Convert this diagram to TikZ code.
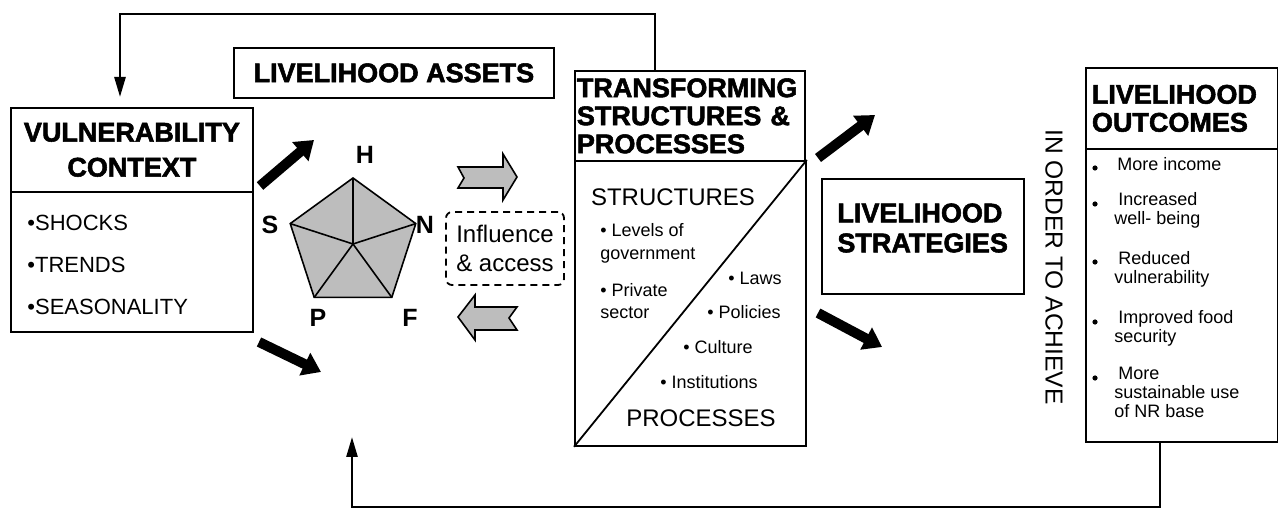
\documentclass[tikz,border=0pt]{standalone}
\usepackage{fontspec}
\setmainfont{Liberation Sans}
\newfontfamily\heavyfont[FakeBold=2]{Liberation Sans}
\usepackage{tikz}
\usetikzlibrary{positioning,calc,arrows.meta,shapes.geometric}
\definecolor{assetgray}{gray}{0.74}

\begin{document}
\begin{tikzpicture}[x=0.5pt,y=-0.5pt,
box/.style={draw,line width=0.9pt,anchor=north west,inner sep=0pt},
heading/.style={font=\heavyfont\bfseries\fontsize{13.5}{#1}\selectfont},
letter/.style={font=\bfseries\fontsize{12.5}{14}\selectfont,inner sep=0pt},
small/.style={font=\fontsize{9}{11.5}\selectfont,inner sep=0pt,align=left},
outc/.style={font=\fontsize{9}{9.5}\selectfont,inner sep=0pt,align=left,anchor=north west},
fat/.style={line width=5pt,-{Triangle[length=9pt,width=12pt]}},
feed/.style={line width=1.3pt,-{Triangle[length=10pt,width=5.5pt]}},
hollow/.style={fill=assetgray,draw,line width=0.8pt}]

\useasboundingbox (0,0) rectangle (1278,512);

% boxes
\node[box,minimum width=121pt,minimum height=42pt,align=center,heading=17.5pt] (vt) at (10,107) {VULNERABILITY\\CONTEXT};
\node[box,minimum width=121pt,minimum height=70pt] (vb) at (10,191) {};
\node[box,minimum width=160pt,minimum height=25pt,heading=15pt] (la) at (233,47) {LIVELIHOOD ASSETS};
\node[box,minimum width=115pt,minimum height=45pt,text width=113pt,inner xsep=1pt,align=left,heading=14pt] (tt) at (574,70) {TRANSFORMING\\STRUCTURES \&\\PROCESSES};
\node[box,minimum width=115.5pt,minimum height=142.5pt] (tb) at (574,160) {};
\node[box,minimum width=101pt,minimum height=57.5pt] (ls) at (821,178) {};
\node[heading=15pt,align=left,anchor=west,inner sep=0pt] (lstxt) at (837,228) {LIVELIHOOD\\STRATEGIES};
\node[box,minimum width=96pt,minimum height=40.5pt,text width=90pt,inner xsep=3pt,align=left,heading=14pt] (ot) at (1085,67) {LIVELIHOOD\\OUTCOMES};
\node[box,minimum width=96pt,minimum height=146.5pt] (ob) at (1085,148) {};

% vulnerability list
\node[anchor=west,inner sep=0pt,font=\fontsize{11}{13}\selectfont] (shocks) at (27,223) {\textbullet SHOCKS};
\node[anchor=west,inner sep=0pt,font=\fontsize{11}{13}\selectfont] (trends) at (27,265) {\textbullet TRENDS};
\node[anchor=west,inner sep=0pt,font=\fontsize{11}{13}\selectfont] (season) at (27,307) {\textbullet SEASONALITY};

% asset pentagon
\node[regular polygon,regular polygon sides=5,minimum size=66pt,inner sep=0pt,outer sep=0pt,hollow] (pent) at (353,244) {};
\foreach \c in {1,...,5}
  \draw[line width=0.8pt] (pent.center) -- (pent.corner \c);
\node[letter] (lblH) at (365,155) {H};
\node[letter] (lblS) at (270,225) {S};
\node[letter] (lblN) at (425,225) {N};
\node[letter] (lblP) at (318,318) {P};
\node[letter] (lblF) at (410,318) {F};

% influence and access
\node[draw,dash pattern=on 3.5pt off 2.5pt,rounded corners=3pt,line width=0.9pt,minimum width=59pt,minimum height=36.5pt,align=center,font=\fontsize{12}{14.5}\selectfont,inner sep=0pt] (infl) at (505,248.5) {Influence\\\& access};
\draw[hollow] (458,167) -- (503,167) -- (503,154) -- (517,177) -- (503,200) -- (503,188) -- (458,188) -- (464,178) -- cycle;
\draw[hollow] (458,317) -- (475,295) -- (475,307) -- (517,307) -- (509,318) -- (517,330) -- (475,330) -- (475,340) -- cycle;

% structures and processes
\draw[line width=0.9pt] (tb.south west) -- (tb.north east);
\node[font=\fontsize{12}{14}\selectfont,inner sep=0pt] (struct) at (673,197) {STRUCTURES};
\node[small,anchor=north west] (s1) at (600,223) {\textbullet\ Levels of\\government};
\node[small,anchor=north west,font=\fontsize{9}{11}\selectfont] (s2) at (600,283) {\textbullet\ Private\\sector};
\node[small,anchor=west] (p1) at (728,278) {\textbullet\ Laws};
\node[small,anchor=west] (p2) at (707,312) {\textbullet\ Policies};
\node[small,anchor=west] (p3) at (683,347) {\textbullet\ Culture};
\node[small,anchor=west] (p4) at (660,382) {\textbullet\ Institutions};
\node[font=\fontsize{12}{14}\selectfont,inner sep=0pt] (proc) at (701,418) {PROCESSES};

% outcomes
\node[rotate=-90,font=\fontsize{12.3}{14}\selectfont,inner sep=0pt] (achieve) at (1054,267) {IN ORDER TO ACHIEVE};
\foreach \y in {168,204,262,322,378}
  \fill (1095,\y) circle (1.3pt);
\node[outc] (o1) at (1117,157) {More income};
\node[outc] (o2) at (1114,192) {\hspace*{2pt}Increased\\well- being};
\node[outc] (o3) at (1114,251) {\hspace*{2pt}Reduced\\vulnerability};
\node[outc] (o4) at (1114,310) {\hspace*{2pt}Improved food\\security};
\node[outc] (o5) at (1114,367) {\hspace*{2pt}More\\sustainable use\\of NR base};

% arrows
\coordinate (a1s) at (260,186); \coordinate (a1t) at (314,140);
\coordinate (a2s) at (259,342); \coordinate (a2t) at (321,372);
\coordinate (a3s) at (818,158); \coordinate (a3t) at (875,115);
\coordinate (a4s) at (818,313); \coordinate (a4t) at (882,347);
\draw[fat] (a1s) -- (a1t);
\draw[fat] (a2s) -- (a2t);
\draw[fat] (a3s) -- (a3t);
\draw[fat] (a4s) -- (a4t);

% feedback
\coordinate (fbtop) at (120,97);
\coordinate (fbbot) at (352,437);
\draw[feed] ($(tt.north west)+(81,0)$) |- (120,14) -- (fbtop);
\draw[feed] ($(ob.south west)+(75,0)$) |- (352,507) -- (fbbot);
\end{tikzpicture}
\end{document}
